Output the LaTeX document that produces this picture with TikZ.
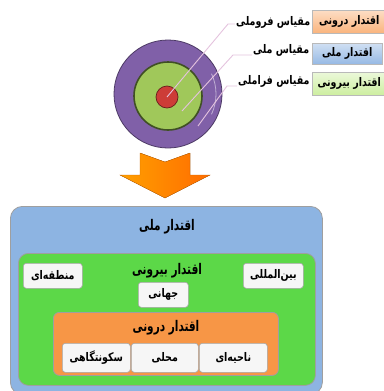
\documentclass[tikz,border=0pt]{standalone}
\usepackage{fontspec}
\newfontfamily\farsi[Script=Arabic]{DejaVu Sans}
\TeXXeTstate=1
\newcommand\fa[1]{\scalebox{1}[1.25]{\beginR #1\endR}}
\newcommand\fatitle[1]{\scalebox{1}[1.4]{\beginR #1\endR}}
\definecolor{ringpurple}{RGB}{128,96,168}
\definecolor{ringgreen}{RGB}{160,200,90}
\definecolor{ringred}{RGB}{205,60,55}
\definecolor{leadpink}{RGB}{228,195,222}
\definecolor{panblue}{RGB}{141,180,226}
\definecolor{pangreen}{RGB}{92,216,72}
\definecolor{panorange}{RGB}{247,150,70}
\definecolor{legorange}{RGB}{250,180,125}
\definecolor{legblue}{RGB}{150,185,228}
\definecolor{leggreen}{RGB}{205,238,160}
\tikzset{%
  leader/.style   = {draw=leadpink, line width=0.9pt},%
  sclabel/.style  = {anchor=west, inner sep=1pt, font=\farsi\bfseries\fontsize{9.5}{11}\selectfont},%
  legbox/.style   = {shape=rectangle, anchor=north west, draw=gray!55,%
                     minimum width=74pt, minimum height=23pt, inner sep=2pt,%
                     font=\farsi\bfseries\fontsize{9.5}{11}\selectfont},%
  panel/.style    = {shape=rectangle, draw=gray!75, line width=0.8pt, anchor=north west},%
  title/.style    = {font=\farsi\bfseries\fontsize{10.5}{12}\selectfont, inner sep=1pt},%
  cell/.style     = {shape=rectangle, rounded corners=3pt, anchor=north west,%
                     draw=gray!70, line width=0.6pt, fill=gray!7,%
                     font=\farsi\bfseries\fontsize{9.5}{11}\selectfont}%
}
\begin{document}
\begin{tikzpicture}[x=1pt,y=-1pt]
  \useasboundingbox (0,0) rectangle (383,391);
  % rings
  \node[circle, draw=ringpurple!60!black, line width=0.8pt, fill=ringpurple,
        minimum size=108pt] (outer) at (168,94) {};
  \node[circle, draw=ringgreen!40!black, line width=1.6pt, fill=ringgreen,
        minimum size=68pt] (middle) at (168,96) {};
  \node[circle, draw=ringred!50!black, line width=0.7pt, fill=ringred,
        minimum size=22pt] (inner) at (167,97) {};
  \draw[white, opacity=0.5, line width=0.8pt] (outer.center) ++(-25:48) arc (-25:25:48);
  % scale labels
  \node[sclabel] (scsub) at (235,22) {\fa{مقیاس فروملی}};
  \node[sclabel] (scnat) at (252,50) {\fa{مقیاس ملی}};
  \node[sclabel] (scsup) at (237,81) {\fa{مقیاس فراملی}};
  \coordinate (e1) at (228,24);
  \coordinate (e2) at (233,55);
  \coordinate (e3) at (227,86);
  \coordinate (p2) at (182,111);
  \coordinate (p3) at (198,126);
  \draw[leader] (inner.center) -- (e1) -- (scsub.west |- e1);
  \draw[leader] (p2) -- (e2) -- (scnat.west |- e2);
  \draw[leader] (p3) -- (e3) -- (scsup.west |- e3);
  % legend
  \node[legbox, top color=legorange!45, bottom color=legorange] (legin) at (312,10) {\fa{اقتدار درونی}};
  \node[legbox, top color=legblue!45, bottom color=legblue, minimum width=70pt,
        minimum height=21pt] (legnat) at (312,43) {\fa{اقتدار ملی}};
  \node[legbox, top color=leggreen!40, bottom color=leggreen] (legout) at (312,72) {\fa{اقتدار بیرونی}};
  % arrow
  \fill[left color=orange!75!yellow, right color=orange!85!red, draw=orange!80!black, line width=0.3pt]
    (140,153) -- (165,162) -- (190,153) -- (190,175) -- (210,175)
    -- (165,198) -- (120,175) -- (140,175) -- cycle;
  % panels
  \node[panel, rounded corners=12pt, fill=panblue, minimum width=312pt,
        minimum height=188pt] (natl) at (10,206) {};
  \node[title] (natltitle) at (167,227) {\fatitle{اقتدار ملی}};
  \node[panel, rounded corners=10pt, fill=pangreen, minimum width=297pt,
        minimum height=132pt] (outw) at (18,253) {};
  \node[title] (outwtitle) at (167,271) {\fatitle{اقتدار بیرونی}};
  \node[cell, minimum width=59pt, minimum height=25pt] (regional) at (23,263) {\fa{منطقه‌ای}};
  \node[cell, minimum width=60pt, minimum height=25pt] (intl) at (243,263) {\fa{بین‌المللی}};
  \node[cell, minimum width=50pt, minimum height=25pt] (global) at (138,282) {\fa{جهانی}};
  \node[panel, rounded corners=6pt, fill=panorange, minimum width=225pt,
        minimum height=63pt] (inw) at (53,312) {};
  \node[title] (inwtitle) at (166,328) {\fatitle{اقتدار درونی}};
  \node[cell, minimum width=68pt, minimum height=29pt] (settle) at (62,343) {\fa{سکونتگاهی}};
  \node[cell, minimum width=67pt, minimum height=29pt] (local) at (131,343) {\fa{محلی}};
  \node[cell, minimum width=68pt, minimum height=29pt] (area) at (199,343) {\fa{ناحیه‌ای}};
\end{tikzpicture}
\end{document}
